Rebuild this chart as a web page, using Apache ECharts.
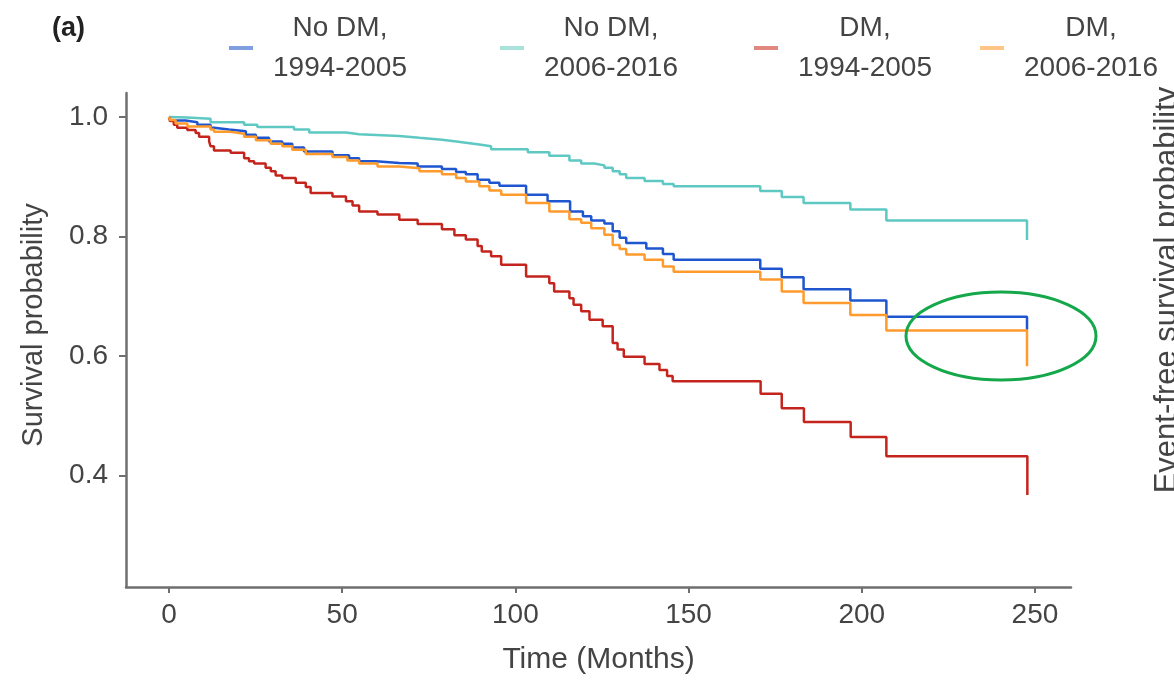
<!DOCTYPE html>
<html>
<head>
<meta charset="utf-8">
<script src="https://cdn.jsdelivr.net/npm/echarts@6/dist/echarts.min.js"></script>
<style>
  html, body { margin: 0; padding: 0; background: #fff; }
  #main { width: 1174px; height: 683px; }
</style>
</head>
<body>
<div id="main"></div>
<script>
// group names (legend order)
var groupNames = ['No DM, 1994-2005', 'No DM, 2006-2016', 'DM, 1994-2005', 'DM, 2006-2016'];

// No DM, 1994-2005
var noDmEarlyTime = [0, 0.5, 4.8, 8.2, 12.0, 13.0, 17.3, 22.2, 25.1, 28.9, 32.7, 35.6, 39.0, 47.2, 52.0, 54.9, 59.7, 66.5,
  71.8, 78.8, 82.9, 85.7, 89.1, 92.5, 95.4, 103.1, 109.3, 115.8, 119.5, 121.9, 125.7, 128.1, 130.1, 132.0, 137.8,
  142.6, 145.7, 170.7, 176.9, 183.2, 196.7, 207.1, 247.7];
var noDmEarlySurv = [1.0, 0.994, 0.991, 0.987, 0.982, 0.979, 0.976, 0.970, 0.965, 0.959, 0.955, 0.949, 0.942, 0.936, 0.931, 0.926, 0.923, 0.922,
  0.917, 0.913, 0.908, 0.904, 0.895, 0.890, 0.885, 0.870, 0.859, 0.842, 0.834, 0.827, 0.822, 0.809, 0.798, 0.789, 0.780,
  0.771, 0.761, 0.746, 0.732, 0.712, 0.693, 0.666, 0.644];

// No DM, 2006-2016
var noDmLateTime = [0, 0.3, 5.3, 12.0, 21.7, 25.5, 36.1, 40.5, 51.1, 54.9, 66.5, 72.3, 78.8, 83.0, 85.7, 89.6, 93.0, 103.6,
  109.8, 115.6, 119.0, 122.8, 125.7, 128.1, 130.1, 132.0, 137.3, 142.6, 145.7, 170.7, 176.9, 183.2, 196.7, 207.1, 247.7];
var noDmLateSurv = [1.0, 0.999, 0.997, 0.991, 0.987, 0.983, 0.979, 0.974, 0.971, 0.968, 0.965, 0.962, 0.959, 0.957, 0.954, 0.951, 0.946, 0.941,
  0.935, 0.927, 0.922, 0.919, 0.915, 0.909, 0.904, 0.898, 0.893, 0.888, 0.884, 0.876, 0.866, 0.856, 0.845, 0.827, 0.794];

// DM, 1994-2005
var dmEarlyTime = [0, 0.3, 1.4, 2.4, 5.3, 7.7, 8.7, 11.6, 12.0, 13.0, 17.8, 21.7, 23.1, 24.6, 27.9, 29.4, 30.8, 32.7, 36.6,
  39.5, 40.9, 47.2, 51.1, 53.0, 54.9, 60.2, 66.5, 71.8, 78.8, 82.4, 85.7, 89.1, 90.3, 93.0, 95.9, 103.1, 109.8, 111.2,
  115.6, 116.8, 119.0, 121.4, 125.2, 128.1, 129.5, 131.3, 137.3, 141.6, 143.8, 145.4, 170.8, 176.9, 183.3, 196.8, 207.1, 247.8];
var dmEarlySurv = [1.0, 0.993, 0.987, 0.982, 0.978, 0.973, 0.967, 0.959, 0.951, 0.944, 0.940, 0.931, 0.926, 0.922, 0.915, 0.909, 0.902, 0.898, 0.890,
  0.883, 0.873, 0.867, 0.859, 0.852, 0.842, 0.837, 0.828, 0.821, 0.812, 0.802, 0.795, 0.784, 0.775, 0.767, 0.753, 0.733, 0.722, 0.708,
  0.697, 0.686, 0.675, 0.661, 0.650, 0.622, 0.611, 0.599, 0.587, 0.577, 0.567, 0.558, 0.537, 0.513, 0.490, 0.465, 0.4325, 0.368];

// DM, 2006-2016
var dmLateTime = [0, 0.3, 1.9, 5.3, 12.0, 13.0, 17.8, 21.7, 25.1, 29.4, 32.7, 35.6, 39.5, 47.2, 51.5, 54.9, 60.2, 66.5,
  72.3, 78.8, 82.9, 85.7, 89.6, 92.5, 95.9, 103.1, 109.8, 115.6, 119.0, 121.9, 125.7, 128.1, 130.1, 132.0, 137.3,
  142.6, 145.7, 170.7, 176.9, 183.2, 196.7, 207.1, 247.7];
var dmLateSurv = [1.0, 0.995, 0.989, 0.984, 0.979, 0.975, 0.972, 0.967, 0.961, 0.955, 0.951, 0.945, 0.938, 0.933, 0.927, 0.922, 0.917, 0.914,
  0.909, 0.904, 0.898, 0.892, 0.884, 0.877, 0.870, 0.856, 0.842, 0.829, 0.823, 0.814, 0.803, 0.786, 0.779, 0.770, 0.761,
  0.750, 0.741, 0.728, 0.708, 0.689, 0.669, 0.643, 0.583];

var xTicks = [0, 50, 100, 150, 200, 250];
var yTicks = [0.4, 0.6, 0.8, 1.0];

var lineColors = ['#1f56cf', '#5ec8c3', '#c4241c', '#ff9a2c'];
var legendColors = ['#7f9fe0', '#a9e1dd', '#e28680', '#ffc487'];
var legendLeft = [224, 495, 749, 975];

function zip(t, s) {
  return t.map(function (v, i) { return [v, s[i]]; });
}

var curves = [
  zip(noDmEarlyTime, noDmEarlySurv),
  zip(noDmLateTime, noDmLateSurv),
  zip(dmEarlyTime, dmEarlySurv),
  zip(dmLateTime, dmLateSurv)
];

var textColor = '#444';
var fontFamily = 'Liberation Sans, Arial, sans-serif';

var chart = echarts.init(document.getElementById('main'));

var option = {
  backgroundColor: '#fff',
  animation: false,
  textStyle: { fontFamily: fontFamily },
  grid: { left: 126, right: 103, top: 93, bottom: 96 },
  legend: groupNames.map(function (name, i) {
    return {
      data: [{ name: name, itemStyle: { color: legendColors[i] } }],
      left: legendLeft[i],
      top: 9,
      icon: 'rect',
      itemWidth: 24,
      itemHeight: 4,
      itemGap: 0,
      selectedMode: false,
      formatter: function (n) {
        var parts = n.split(', ');
        return '{t|' + parts[0] + ',}\n{t|' + parts[1] + '}';
      },
      textStyle: {
        rich: {
          t: { fontSize: 28, lineHeight: 40, width: 164, align: 'center', color: textColor, fontFamily: fontFamily }
        }
      }
    };
  }),
  xAxis: {
    type: 'value',
    min: -12.4,
    max: 260.4,
    name: 'Time (Months)',
    nameLocation: 'middle',
    nameGap: 58,
    nameTextStyle: { fontSize: 30, color: textColor },
    splitLine: { show: false },
    axisLine: { show: true, onZero: false, lineStyle: { color: '#6f6f6f', width: 2.5 } },
    axisTick: { show: true, length: 6, customValues: xTicks, lineStyle: { color: '#6f6f6f', width: 2 } },
    axisLabel: { customValues: xTicks, fontSize: 28, color: textColor, margin: 14 }
  },
  yAxis: {
    type: 'value',
    min: 0.214,
    max: 1.04,
    name: 'Survival probability',
    nameLocation: 'middle',
    nameGap: 78,
    nameTextStyle: { fontSize: 29, color: textColor, padding: [0, 0, 0, 30] },
    splitLine: { show: false },
    axisLine: { show: true, onZero: false, lineStyle: { color: '#6f6f6f', width: 2.5 } },
    axisTick: { show: true, length: 7, customValues: yTicks, lineStyle: { color: '#6f6f6f', width: 2 } },
    axisLabel: {
      customValues: yTicks, fontSize: 28, color: textColor, margin: 18,
      formatter: function (v) { return v.toFixed(1); }
    }
  },
  series: groupNames.map(function (name, i) {
    return {
      name: name,
      type: 'line',
      step: 'end',
      symbol: 'none',
      color: lineColors[i],
      lineStyle: { width: 2.5, color: lineColors[i] },
      data: curves[i]
    };
  }),
  graphic: [
    {
      type: 'text', left: 52, top: 15,
      style: { text: '(a)', font: 'bold 27px ' + fontFamily, fill: '#222' }
    },
    {
      type: 'text', x: 1167, y: 290, rotation: Math.PI / 2,
      style: { text: 'Event-free survival probability', font: '31px ' + fontFamily, fill: textColor, align: 'center', verticalAlign: 'middle' }
    },
    {
      type: 'ellipse',
      shape: { cx: 1001, cy: 336, rx: 95, ry: 44 },
      style: { fill: 'none', stroke: '#14a84b', lineWidth: 3 },
      z: 10
    }
  ]
};

chart.setOption(option);
</script>
</body>
</html>
